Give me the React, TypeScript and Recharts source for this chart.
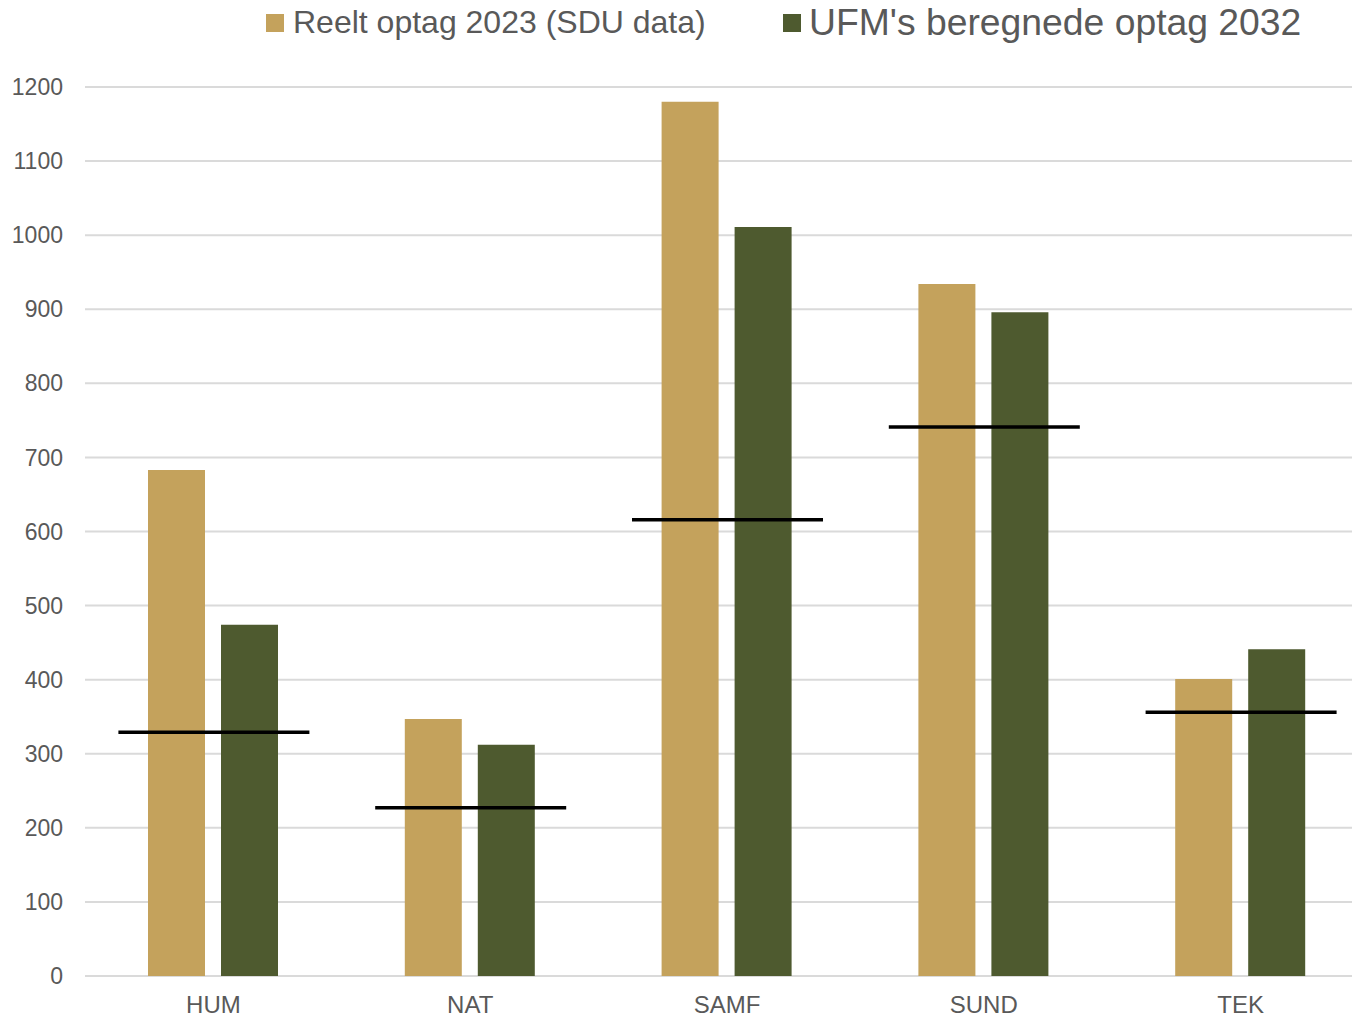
import { ComposedChart, Bar, Scatter, XAxis, YAxis, CartesianGrid, Legend } from 'recharts'

// faculties and values
const categories = ['HUM', 'NAT', 'SAMF', 'SUND', 'TEK']
const actual2023 = [683, 347, 1180, 934, 401]
const projected2032 = [474, 312, 1011, 896, 441]
const markerLevel = [329, 227, 616, 741, 356]
const yTicks = [0, 100, 200, 300, 400, 500, 600, 700, 800, 900, 1000, 1100, 1200]

const GOLD = '#C4A25C'
const GREEN = '#4E5A2F'
const TEXT = '#595959'
const FONT = '"Liberation Sans", Arial, sans-serif'

const data = categories.map((name, i) => ({
  name,
  actual: actual2023[i],
  projected: projected2032[i],
  marker: markerLevel[i],
}))

// horizontal black bar drawn across the group
const MarkerShape = (props: any) => {
  const { cx, cy } = props
  if (cx == null || cy == null) return null
  return <line x1={cx - 95} x2={cx + 96} y1={cy} y2={cy} stroke="#000" strokeWidth={3.5} />
}

const LegendContent = () => (
  <div style={{ position: 'relative', width: 1352, height: 50, fontFamily: FONT, color: TEXT }}>
    <div style={{ position: 'absolute', left: 266, top: 14, width: 18, height: 18, background: GOLD }} />
    <div style={{ position: 'absolute', left: 293, top: 2, fontSize: 32, lineHeight: '40px', whiteSpace: 'nowrap' }}>
      Reelt optag 2023 (SDU data)
    </div>
    <div style={{ position: 'absolute', left: 783, top: 14, width: 18, height: 18, background: GREEN }} />
    <div style={{ position: 'absolute', left: 809, top: 0, fontSize: 37.3, lineHeight: '44px', whiteSpace: 'nowrap' }}>
      UFM's beregnede optag 2032
    </div>
  </div>
)

export default function App() {
  return (
    <div style={{ position: 'absolute', left: 0, top: 0, width: 1352, height: 1018, overflow: 'hidden', background: '#fff' }}>
      <ComposedChart
        width={1369}
        height={1018}
        data={data}
        margin={{ top: 37, right: 0, bottom: 0, left: 0 }}
        barCategoryGap={63}
        barGap={16}
      >
        <Legend
          verticalAlign="top"
          align="left"
          height={50}
          wrapperStyle={{ top: 0, left: 0 }}
          content={<LegendContent />}
        />
        <CartesianGrid vertical={false} stroke="#dadada" strokeWidth={2} />
        <XAxis
          dataKey="name"
          height={42}
          axisLine={false}
          tickLine={false}
          tickSize={0}
          tickMargin={20}
          tick={{ fill: TEXT, fontSize: 24, fontFamily: FONT }}
        />
        <YAxis
          width={85}
          domain={[0, 1200]}
          ticks={yTicks}
          axisLine={false}
          tickLine={false}
          tickSize={0}
          tickMargin={22}
          tick={{ fill: TEXT, fontSize: 23, fontFamily: FONT }}
        />
        <Bar dataKey="actual" fill={GOLD} barSize={57} isAnimationActive={false} />
        <Bar dataKey="projected" fill={GREEN} barSize={57} isAnimationActive={false} />
        <Scatter dataKey="marker" shape={<MarkerShape />} isAnimationActive={false} legendType="none" />
      </ComposedChart>
    </div>
  )
}
